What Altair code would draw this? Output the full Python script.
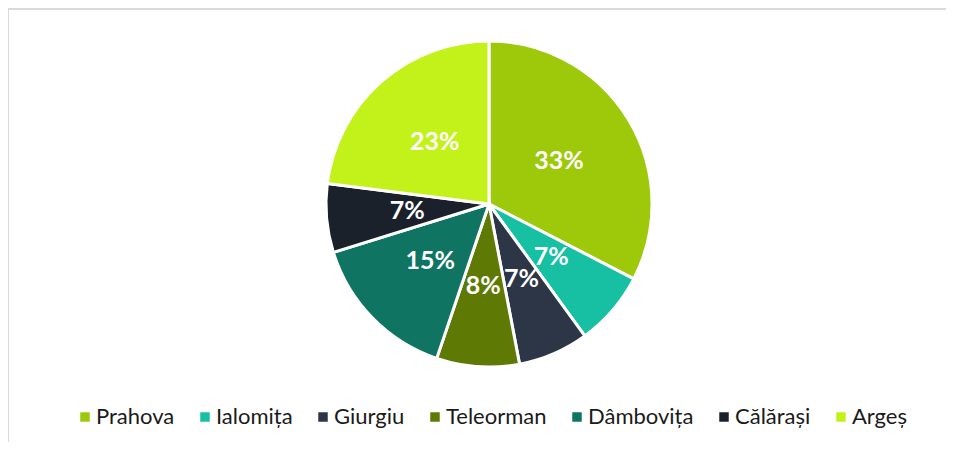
import altair as alt
import pandas as pd

regions = ["Prahova", "Ialomița", "Giurgiu", "Teleorman", "Dâmbovița", "Călărași", "Argeș"]
shares = [32.6, 7.4, 7.0, 8.2, 15.0, 6.8, 23.0]
labels = ["33%", "7%", "7%", "8%", "15%", "7%", "23%"]
colors = ["#9dc90a", "#17c0a3", "#2d3646", "#5e7a05", "#0f7562", "#1b212b", "#c2f21a"]

df = pd.DataFrame({"region": regions, "share": shares, "label": labels, "order": list(range(len(regions)))})

CX, CY, R = 481, 196, 163
FONT = "Lato"

color = alt.Color(
    "region:N",
    scale=alt.Scale(domain=regions, range=colors),
    sort=regions,
    legend=alt.Legend(
        title=None,
        orient="none",
        direction="horizontal",
        legendX=66,
        legendY=398,
        symbolType="square",
        symbolSize=90,
        symbolStrokeWidth=0,
        labelFont=FONT,
        labelFontSize=22,
        labelColor="#1a1a1a",
        labelOffset=0,
        columnPadding=19,
        labelLimit=200,
    ),
)

base = alt.Chart(df).encode(
    theta=alt.Theta("share:Q", stack=True),
    order=alt.Order("order:Q"),
)

pie = base.mark_arc(radius=R, stroke="white", strokeWidth=3).encode(
    color=color,
    x=alt.value(CX),
    y=alt.value(CY),
)

text = base.mark_text(
    radius=82, font=FONT, fontSize=25, fontWeight="bold", color="white"
).encode(
    text="label:N",
    x=alt.value(CX),
    y=alt.value(CY),
)

frame_top = alt.Chart(df).mark_rule(color="#d9d9d9", strokeWidth=1.2).encode(
    x=alt.value(0), x2=alt.value(950), y=alt.value(1)
)
frame_left = alt.Chart(df).mark_rule(color="#d9d9d9", strokeWidth=1.2).encode(
    x=alt.value(0), y=alt.value(1), y2=alt.value(460)
)

chart = (
    alt.layer(frame_top, frame_left, pie, text)
    .properties(width=938, height=434, padding=0, autosize=alt.AutoSizeParams(type="none"))
    .configure_view(stroke=None)
    .configure(background="white")
)

chart.save("out.html", embed_options={"renderer": "svg", "actions": False})
